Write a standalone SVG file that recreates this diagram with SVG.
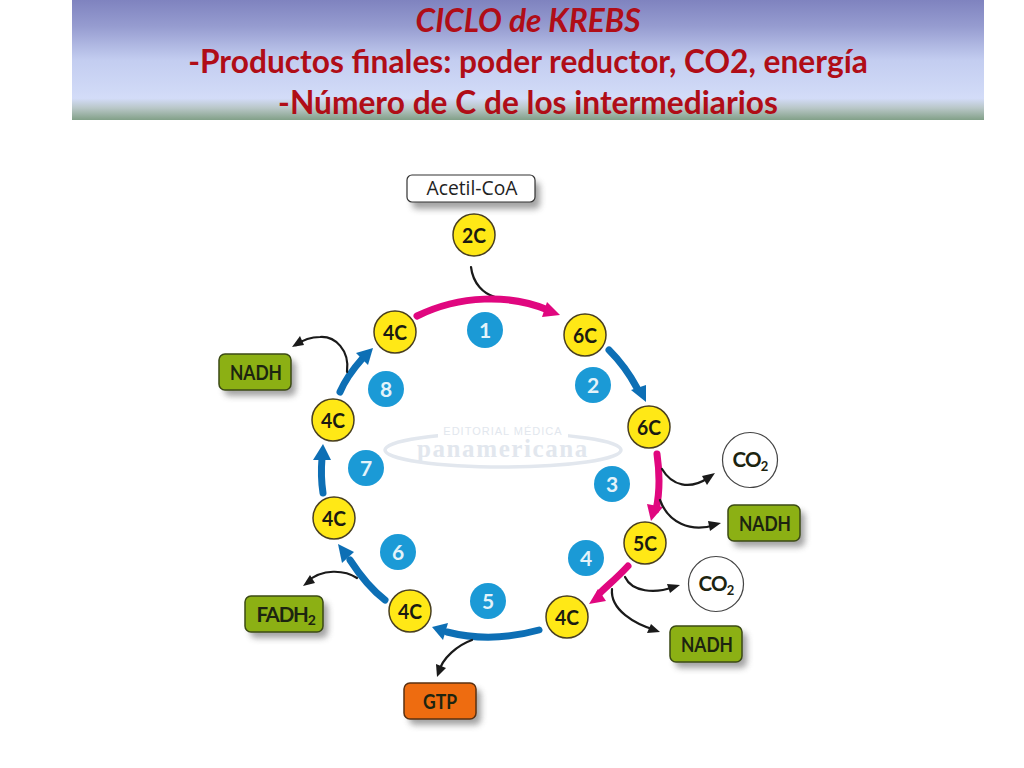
<svg xmlns="http://www.w3.org/2000/svg" width="1024" height="768" viewBox="0 0 1024 768">
<style>
.title{font:700 31.7px Lato,"Open Sans",sans-serif;fill:#b00d17;text-anchor:middle}
.c{fill:#ffe816;stroke:#4a4020;stroke-width:1.5}
.ct{font:700 21.5px Lato,"Open Sans",sans-serif;fill:#1a1a12;text-anchor:middle}
.n{fill:#1b9ad6}
.nt{font:700 21px Lato,"Open Sans",sans-serif;fill:#e4f3fa;text-anchor:middle}
.box{fill:#8cb014;stroke:#3b4a14;stroke-width:1.5}
.bt{font:700 20.5px Lato,"Open Sans",sans-serif;fill:#1c2410;text-anchor:middle}
.sh{fill:#666;opacity:.6;filter:url(#blur)}
.co{fill:#fff;stroke:#444;stroke-width:1.2}
.k{fill:none;stroke:#1a1a1a;stroke-width:2.2;stroke-linecap:round}
.kh{fill:#1a1a1a}
.b{fill:none;stroke:#0d6fb5;stroke-width:7;stroke-linecap:round}
.bh{fill:#0d6fb5}
.m{fill:none;stroke:#e0077f;stroke-width:7;stroke-linecap:round}
.mh{fill:#e0077f}
.wm{fill:#e2e7ee;text-anchor:middle}
</style>
<defs>
<linearGradient id="hdr" x1="0" y1="0" x2="0" y2="1">
<stop offset="0" stop-color="#7f83bf"/><stop offset=".22" stop-color="#969cd0"/><stop offset=".5" stop-color="#c3cdf0"/><stop offset=".82" stop-color="#d3dcf8"/><stop offset=".9" stop-color="#b9c7c8"/><stop offset="1" stop-color="#82a088"/>
</linearGradient>
<filter id="blur" x="-20%" y="-30%" width="140%" height="160%"><feGaussianBlur stdDeviation="3"/></filter>
</defs>
<rect width="1024" height="768" fill="#fff"/>
<g id="header">
<rect x="72" y="0" width="912" height="120" fill="url(#hdr)"/>
<text class="title" x="528" y="32" style="font-style:italic">CICLO de KREBS</text>
<text class="title" x="528" y="73">-Productos finales: poder reductor, CO2, energía</text>
<text class="title" x="528" y="114">-Número de C de los intermediarios</text>
</g>
<g id="watermark">
<ellipse cx="503" cy="450" rx="118" ry="17" fill="none" stroke="#e2e7ee" stroke-width="3.5"/>
<rect x="438" y="425" width="130" height="16" fill="#fff"/>
<text class="wm" x="503" y="434.500" font-family="Liberation Sans, sans-serif" font-size="11" letter-spacing="1">EDITORIAL MÉDICA</text>
<text class="wm" x="503" y="457" font-family="Liberation Serif, serif" font-size="25" font-weight="700" letter-spacing="1.6">panamericana</text>
</g>
<g id="connectors">
<path class="k" d="M471 267C473 284 484 294 495 297"/>
<path class="m" d="M417 316C460 295 510 294 548 310"/>
<path class="mh" d="M560 315L542 317L547 302Z"/>
<path class="b" d="M609 350C620 361 629 373 637 388"/>
<path class="bh" d="M646 402L631 390L646 385Z"/>
<path class="m" d="M657 454C660 475 660 492 656 510"/>
<path class="mh" d="M651 521L647 504L663 507Z"/>
<path class="k" d="M662 469C672 486 690 490 708 478"/>
<path class="kh" d="M715 473L707 485L702 476Z"/>
<path class="k" d="M660 500C668 522 690 533 715 525"/>
<path class="kh" d="M721 523L710 531L708 521Z"/>
<path class="m" d="M628 566C617 578 607 586 600 593"/>
<path class="mh" d="M589 604L598 589L606 601Z"/>
<path class="k" d="M625 577C632 592 655 594 673 587"/>
<path class="kh" d="M680 585L670 593L667 584Z"/>
<path class="k" d="M612 589C610 610 635 624 655 630"/>
<path class="kh" d="M660 632L647 633L651 624Z"/>
<path class="b" d="M539 630C510 638 478 640 447 632"/>
<path class="bh" d="M432 627L448 623L443 640Z"/>
<path class="k" d="M472 640C458 645 442 658 439 672"/>
<path class="kh" d="M437 677L436 664L446 668Z"/>
<path class="b" d="M385 600C372 590 361 577 350 560"/>
<path class="bh" d="M338 544L354 552L342 563Z"/>
<path class="k" d="M357 578C345 570 322 568 307 582"/>
<path class="kh" d="M303 586L310 575L315 583Z"/>
<path class="b" d="M323 493C321 480 321 470 322 458"/>
<path class="bh" d="M323 444L331 460L313 460Z"/>
<path class="b" d="M340 392C346 378 354 368 362 359"/>
<path class="bh" d="M373 348L368 365L356 353Z"/>
<path class="k" d="M347 372C350 350 335 336 320 337C308 337 300 342 296 345"/>
<path class="kh" d="M292 347L300 336L304 345Z"/>
</g>
<g id="acetil"><rect class="sh" x="412" y="182" width="128" height="27" rx="5"/><rect x="407" y="175" width="128" height="27" rx="5" fill="#fff" stroke="#333" stroke-width="1.2"/><text x="472" y="195" font-family="Open Sans, sans-serif" font-size="19.300" fill="#222" text-anchor="middle">Acetil-CoA</text></g>
<g id="c2"><circle class="c" cx="474" cy="235" r="21"/><text class="ct" x="474" y="243" textLength="24" lengthAdjust="spacingAndGlyphs">2C</text></g>
<g id="c6a"><circle class="c" cx="585" cy="335" r="21"/><text class="ct" x="585" y="343" textLength="24" lengthAdjust="spacingAndGlyphs">6C</text></g>
<g id="c6b"><circle class="c" cx="649" cy="427" r="21"/><text class="ct" x="649" y="435" textLength="24" lengthAdjust="spacingAndGlyphs">6C</text></g>
<g id="c5"><circle class="c" cx="645" cy="543" r="21"/><text class="ct" x="645" y="551" textLength="24" lengthAdjust="spacingAndGlyphs">5C</text></g>
<g id="c4a"><circle class="c" cx="567" cy="617" r="21"/><text class="ct" x="567" y="625" textLength="24" lengthAdjust="spacingAndGlyphs">4C</text></g>
<g id="c4b"><circle class="c" cx="410" cy="611" r="21"/><text class="ct" x="410" y="619" textLength="24" lengthAdjust="spacingAndGlyphs">4C</text></g>
<g id="c4c"><circle class="c" cx="334" cy="518" r="21"/><text class="ct" x="334" y="526" textLength="24" lengthAdjust="spacingAndGlyphs">4C</text></g>
<g id="c4d"><circle class="c" cx="333" cy="420" r="21"/><text class="ct" x="333" y="428" textLength="24" lengthAdjust="spacingAndGlyphs">4C</text></g>
<g id="c4e"><circle class="c" cx="395" cy="332" r="21"/><text class="ct" x="395" y="340" textLength="24" lengthAdjust="spacingAndGlyphs">4C</text></g>
<g id="n1"><circle class="n" cx="485" cy="330" r="18"/><text class="nt" x="485" y="338">1</text></g>
<g id="n2"><circle class="n" cx="593" cy="385" r="18"/><text class="nt" x="593" y="393">2</text></g>
<g id="n3"><circle class="n" cx="612" cy="484" r="18"/><text class="nt" x="612" y="492">3</text></g>
<g id="n4"><circle class="n" cx="586" cy="558" r="18"/><text class="nt" x="586" y="566">4</text></g>
<g id="n5"><circle class="n" cx="488" cy="601" r="18"/><text class="nt" x="488" y="609">5</text></g>
<g id="n6"><circle class="n" cx="398" cy="552" r="18"/><text class="nt" x="398" y="560">6</text></g>
<g id="n7"><circle class="n" cx="366" cy="468" r="18"/><text class="nt" x="366" y="476">7</text></g>
<g id="n8"><circle class="n" cx="386" cy="389" r="18"/><text class="nt" x="386" y="397">8</text></g>
<g id="co2a"><circle class="co" cx="750" cy="460" r="27.500"/><text class="bt" x="750" y="467" letter-spacing="-.8">CO<tspan font-size="13" dy="4">2</tspan></text></g>
<g id="co2b"><circle class="co" cx="716" cy="584" r="27.500"/><text class="bt" x="716" y="591" letter-spacing="-.8">CO<tspan font-size="13" dy="4">2</tspan></text></g>
<g id="nadh1"><rect class="sh" x="733" y="511" width="72" height="36" rx="6"/><rect class="box" x="728" y="505" width="72" height="36" rx="6"/><text class="bt" x="765" y="531" textLength="52" lengthAdjust="spacingAndGlyphs">NADH</text></g>
<g id="nadh2"><rect class="sh" x="675" y="632" width="72" height="36" rx="6"/><rect class="box" x="670" y="626" width="72" height="36" rx="6"/><text class="bt" x="707" y="652" textLength="52" lengthAdjust="spacingAndGlyphs">NADH</text></g>
<g id="nadh3"><rect class="sh" x="224" y="360" width="72" height="36" rx="6"/><rect class="box" x="219" y="354" width="72" height="36" rx="6"/><text class="bt" x="256" y="380" textLength="52" lengthAdjust="spacingAndGlyphs">NADH</text></g>
<g id="fadh"><rect class="sh" x="250" y="602" width="78" height="36" rx="6"/><rect class="box" x="245" y="596" width="78" height="36" rx="6"/><text class="bt" x="285.500" y="622" letter-spacing="-1.200">FADH<tspan font-size="14" dy="3">2</tspan></text></g>
<g id="gtp"><rect class="sh" x="409" y="689" width="72" height="36" rx="6"/><rect x="404" y="683" width="72" height="36" rx="6" fill="#ee6c10" stroke="#5a3010" stroke-width="1.5"/><text class="bt" x="440" y="709" textLength="34" lengthAdjust="spacingAndGlyphs">GTP</text></g>
</svg>
